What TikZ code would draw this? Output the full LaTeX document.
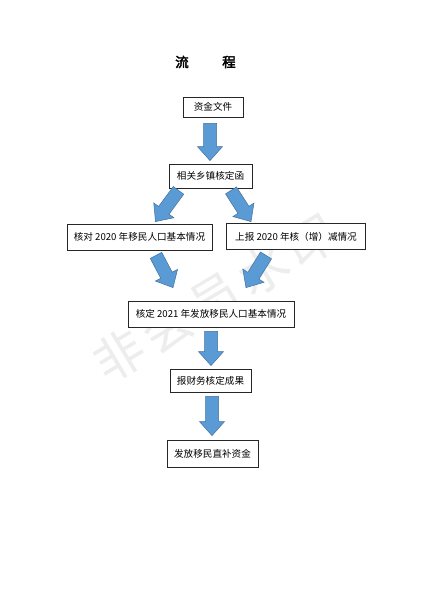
\documentclass[tikz,border=0pt]{standalone}
\usepackage{fontspec}
\setmainfont{Noto Sans CJK SC}
\newfontfamily\cjkbold[FakeBold=3]{Noto Sans CJK SC}
\usetikzlibrary{calc}
\definecolor{arrfill}{HTML}{5B9BD5}
\definecolor{arrline}{HTML}{41719C}
\tikzset{
  box/.style={draw=black!85, line width=0.8pt, fill=white, inner sep=0pt, font=\fontsize{9.6}{11}\selectfont, align=center},
  blockarr/.style={fill=arrfill, draw=arrline, line width=0.5pt, line join=miter}
}
\newcommand\barrow[2]{%
  \coordinate (hb) at ($(#2)!14pt!(#1)$);
  \path[blockarr] ($(#1)!6.5pt!90:(#2)$) -- ($(hb)!6.5pt!90:(#2)$) -- ($(hb)!12.5pt!90:(#2)$) -- (#2)
    -- ($(hb)!12.5pt!-90:(#2)$) -- ($(hb)!6.5pt!-90:(#2)$) -- ($(#1)!6.5pt!-90:(#2)$) -- cycle;
}
\begin{document}
\begin{tikzpicture}[x=1pt,y=-1pt]
\path[fill=white] (0,0) rectangle (424,600);
\useasboundingbox (0,0) rectangle (424,600);
% watermark
\node[text=black!7, rotate=31, font=\fontsize{50}{50}\selectfont] (wm) at (215,298) {非\hspace{6pt}会\hspace{6pt}员\hspace{6pt}水\hspace{6pt}印};
% title
\node[font=\cjkbold\fontsize{13.5}{14}\selectfont] (t1) at (182,62) {流};
\node[font=\cjkbold\fontsize{13.5}{14}\selectfont] (t2) at (229,62) {程};
% boxes
\node[box, minimum width=60pt, minimum height=20pt] (b1) at (213,107) {资金文件};
\node[box, minimum width=83pt, minimum height=24pt] (b2) at (210.5,176) {相关乡镇核定函};
\node[box, minimum width=145pt, minimum height=26pt] (b3) at (139.5,237) {核对 2020 年移民人口基本情况};
\node[box, minimum width=139pt, minimum height=26pt] (b4) at (296,236.5) {上报 2020 年核（增）减情况};
\node[box, minimum width=166pt, minimum height=26pt] (b5) at (211,314) {核定 2021 年发放移民人口基本情况};
\node[box, minimum width=81pt, minimum height=23pt] (b6) at (210.5,380.5) {报财务核定成果};
\node[box, minimum width=91pt, minimum height=27pt] (b7) at (212.5,453.5) {发放移民直补资金};
% arrows
\coordinate (s1) at ($(b1.south)+(-3,6)$);   \coordinate (e1) at ($(b2.north)+(-0.5,-3)$);
\coordinate (s2) at ($(b2.south)+(-32,2)$);  \coordinate (e2) at ($(b3.north)+(16,-2)$);
\coordinate (s3) at ($(b2.south)+(20.5,2)$); \coordinate (e3) at ($(b4.north)+(-45,-1.5)$);
\coordinate (s4) at ($(b3.south)+(16.5,5)$); \coordinate (e4) at ($(b5.north)+(-38,-13)$);
\coordinate (s5) at ($(b4.south)+(-30,5.5)$);\coordinate (e5) at ($(b5.north)+(35,-13)$);
\coordinate (s6) at ($(b5.south)+(0,4)$);    \coordinate (e6) at ($(b6.north)+(0.5,-3)$);
\coordinate (s7) at ($(b6.south)+(1.5,4)$);  \coordinate (e7) at ($(b7.north)+(-0.5,-4)$);
\barrow{s1}{e1}
\barrow{s2}{e2}
\barrow{s3}{e3}
\barrow{s4}{e4}
\barrow{s5}{e5}
\barrow{s6}{e6}
\barrow{s7}{e7}
\end{tikzpicture}
\end{document}
